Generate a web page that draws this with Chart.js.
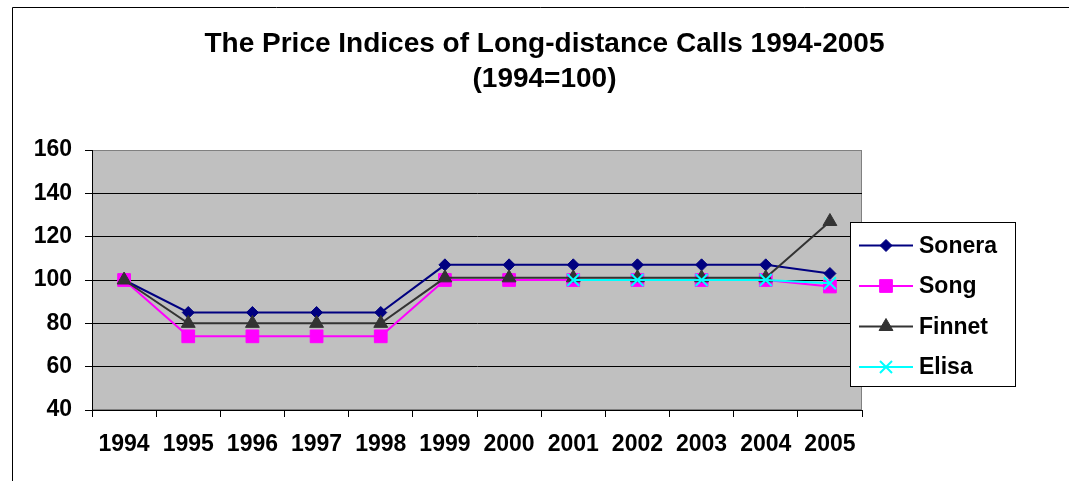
<!DOCTYPE html>
<html>
<head>
<meta charset="utf-8">
<script src="https://cdn.jsdelivr.net/npm/chart.js@4/dist/chart.umd.min.js"></script>
<style>
  html, body { margin: 0; padding: 0; background: #ffffff; }
  #wrap { width: 1069px; height: 481px; }
</style>
</head>
<body>
<div id="wrap"><canvas id="priceChart"></canvas></div>
<script>
    const years = ['1994', '1995', '1996', '1997', '1998', '1999', '2000', '2001', '2002', '2003', '2004', '2005'];
    const sonera = [100, 85, 85, 85, 85, 107, 107, 107, 107, 107, 107, 103];
    const song = [100, 74, 74, 74, 74, 100, 100, 100, 100, 100, 100, 97];
    const finnet = [100, 80, 80, 80, 80, 101, 101, 101, 101, 101, 101, 127];
    const elisa = [null, null, null, null, null, null, null, 100, 100, 100, 100, 98.5];
    const yMin = 40, yMax = 160, yStep = 20;

    const FONT = 'Liberation Sans, Arial, sans-serif';

    // Excel-style background: outer border, grey plot area, white legend box
    const excelFrame = {
        id: 'excelFrame',
        beforeDraw(chart) {
            const ctx = chart.ctx;
            const a = chart.chartArea;
            ctx.save();
            ctx.fillStyle = '#ffffff';
            ctx.fillRect(0, 0, chart.width, chart.height);
            ctx.strokeStyle = '#000000';
            ctx.lineWidth = 1;
            ctx.beginPath();
            ctx.moveTo(12.5, chart.height);
            ctx.lineTo(12.5, 7.5);
            ctx.lineTo(chart.width, 7.5);
            ctx.stroke();
            ctx.fillStyle = '#c0c0c0';
            ctx.fillRect(a.left, a.top, a.right - a.left, a.bottom - a.top);
            ctx.strokeStyle = '#808080';
            ctx.strokeRect(a.left + 0.5, a.top + 0.5, a.right - a.left - 1, a.bottom - a.top - 1);
            ctx.restore();
        },
        afterDraw(chart) {
            const ctx = chart.ctx;
            const box = { x: 850.5, y: 222.5, w: 165, h: 164 };
            ctx.save();
            ctx.fillStyle = '#ffffff';
            ctx.fillRect(box.x, box.y, box.w, box.h);
            ctx.strokeStyle = '#000000';
            ctx.lineWidth = 1;
            ctx.strokeRect(box.x, box.y, box.w, box.h);
            const sets = chart.data.datasets;
            sets.forEach((ds, i) => {
                const y = 245.5 + i * 40.5;
                ctx.strokeStyle = ds.borderColor;
                ctx.lineWidth = 2;
                ctx.beginPath();
                ctx.moveTo(859, y);
                ctx.lineTo(913, y);
                ctx.stroke();
                ctx.fillStyle = ds.pointBackgroundColor;
                ctx.strokeStyle = ds.pointBorderColor;
                ctx.lineWidth = ds.pointBorderWidth;
                Chart.helpers.drawPoint(ctx, { pointStyle: ds.pointStyle, radius: ds.pointRadius, rotation: 0, borderWidth: ds.pointBorderWidth }, 886, y);
                ctx.fillStyle = '#000000';
                ctx.font = 'bold 23px ' + FONT;
                ctx.textBaseline = 'middle';
                ctx.textAlign = 'left';
                ctx.fillText(ds.label, 919, y + 1);
            });
            ctx.restore();
        }
    };

    const ctx = document.getElementById('priceChart').getContext('2d');
    new Chart(ctx, {
        type: 'line',
        data: {
            labels: years,
            datasets: [
                {
                    label: 'Sonera',
                    data: sonera,
                    borderColor: '#000080',
                    borderWidth: 2,
                    pointStyle: 'rectRot',
                    pointRadius: 6,
                    pointBackgroundColor: '#000080',
                    pointBorderColor: '#000080',
                    pointBorderWidth: 1,
                    order: 3
                },
                {
                    label: 'Song',
                    data: song,
                    borderColor: '#ff00ff',
                    borderWidth: 2,
                    pointStyle: 'rect',
                    pointRadius: 9,
                    pointBackgroundColor: '#ff00ff',
                    pointBorderColor: '#ff00ff',
                    pointBorderWidth: 1,
                    order: 2
                },
                {
                    label: 'Finnet',
                    data: finnet,
                    borderColor: '#333333',
                    borderWidth: 2,
                    pointStyle: 'triangle',
                    pointRadius: 8,
                    pointBackgroundColor: '#333333',
                    pointBorderColor: '#333333',
                    pointBorderWidth: 1,
                    order: 1
                },
                {
                    label: 'Elisa',
                    data: elisa,
                    borderColor: '#00ffff',
                    borderWidth: 2,
                    pointStyle: 'crossRot',
                    pointRadius: 8.5,
                    pointBackgroundColor: '#00ffff',
                    pointBorderColor: '#00ffff',
                    pointBorderWidth: 2,
                    order: 0
                }
            ]
        },
        options: {
            responsive: true,
            maintainAspectRatio: false,
            animation: false,
            layout: { padding: { left: 20, right: 0, top: 0, bottom: 0 } },
            plugins: {
                legend: { display: false },
                tooltip: { enabled: false },
                title: {
                    display: true,
                    text: ['The Price Indices of Long-distance Calls 1994-2005', '(1994=100)'],
                    color: '#000000',
                    font: { family: FONT, size: 28, weight: 'bold', lineHeight: 1.25 },
                    padding: { top: 27, bottom: 53 }
                }
            },
            scales: {
                x: {
                    offset: true,
                    grid: {
                        offset: true,
                        drawOnChartArea: false,
                        drawTicks: true,
                        tickLength: 7,
                        color: '#000000'
                    },
                    border: { color: '#000000', width: 1 },
                    ticks: {
                        color: '#000000',
                        padding: 14,
                        maxRotation: 0,
                        autoSkip: false,
                        font: { family: FONT, size: 23, weight: 'bold' }
                    },
                    afterFit(scale) { scale.height = 71; }
                },
                y: {
                    min: yMin,
                    max: yMax,
                    grid: {
                        color: (c) => c.tick && c.tick.value === yMax ? '#808080' : '#000000',
                        tickColor: '#000000',
                        tickLength: 7,
                        lineWidth: 1
                    },
                    border: { color: '#000000', width: 1 },
                    ticks: {
                        stepSize: yStep,
                        color: '#000000',
                        padding: 13,
                        font: { family: FONT, size: 23, weight: 'bold' }
                    },
                    afterFit(scale) { scale.width = 72; }
                },
                // empty axis that keeps room for the legend box on the right
                legendSpace: {
                    type: 'linear',
                    position: 'right',
                    display: true,
                    grid: { display: false, drawTicks: false },
                    border: { display: false },
                    ticks: { display: false },
                    afterFit(scale) { scale.width = 207; }
                }
            }
        },
        plugins: [excelFrame]
    });
</script>
</body>
</html>
